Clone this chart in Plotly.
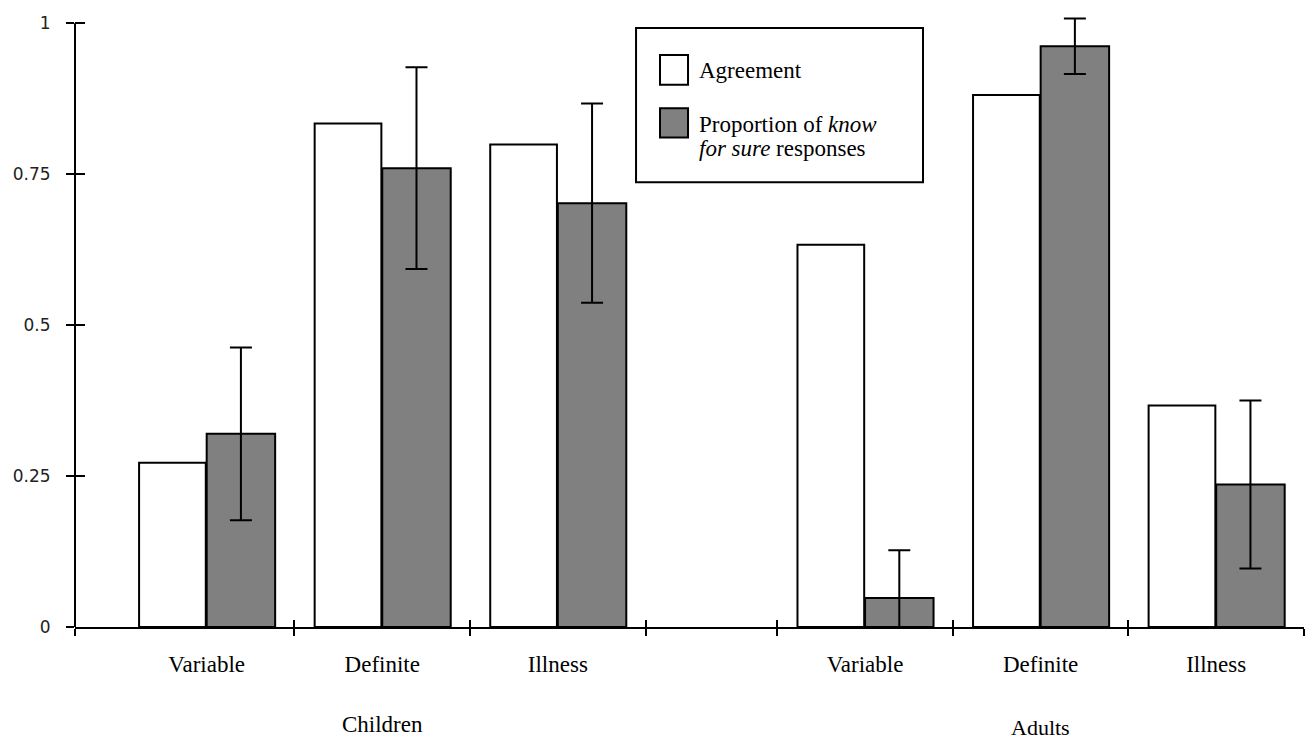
import plotly.graph_objects as go

# ---------------- data ----------------
categories = ["Variable", "Definite", "Illness", "Variable", "Definite", "Illness"]
groups = ["Children", "Adults"]
agreement = [0.272, 0.834, 0.799, 0.633, 0.881, 0.367]
know_for_sure = [0.320, 0.760, 0.702, 0.048, 0.962, 0.236]
know_err = [0.143, 0.167, 0.165, 0.079, 0.046, 0.139]
y_ticks = [0, 0.25, 0.5, 0.75, 1]
y_tick_labels = ["0", "0.25", "0.5", "0.75", "1"]

# ---------------- layout positions ----------------
x_pos = [1, 2, 3, 4.75, 5.75, 6.75]
x_bounds = [0.25, 1.5, 2.5, 3.5, 4.25, 5.25, 6.25, 7.25]
group_label_x = [2, 5.75]
x_range = [0.25, 7.25]
y_range = [0, 1.012]

SERIF = "Liberation Serif, Times New Roman, serif"
SANS = "DejaVu Sans, Verdana, sans-serif"
GREY = "#808080"

fig = go.Figure()

fig.add_trace(go.Bar(
    x=x_pos, y=agreement, name="Agreement",
    offset=-0.385, width=0.38,
    marker=dict(color="white", line=dict(color="black", width=2)),
    showlegend=False, hoverinfo="y",
))
fig.add_trace(go.Bar(
    x=x_pos, y=know_for_sure, name="Proportion of know for sure responses",
    offset=0.0, width=0.39,
    marker=dict(color=GREY, line=dict(color="black", width=2)),
    error_y=dict(type="data", array=know_err, color="black", thickness=2, width=11),
    showlegend=False, hoverinfo="y",
))
# invisible helpers so the overlay axes are drawn
fig.add_trace(go.Scatter(x=x_pos, y=agreement, xaxis="x2", yaxis="y2", mode="markers",
                         marker=dict(opacity=0), showlegend=False, hoverinfo="skip"))
fig.add_trace(go.Scatter(x=x_pos, y=agreement, xaxis="x3", yaxis="y", mode="markers",
                         marker=dict(opacity=0), showlegend=False, hoverinfo="skip"))

common_x = dict(range=x_range, showgrid=False, zeroline=False, fixedrange=True)
common_y = dict(range=y_range, showgrid=False, zeroline=False, fixedrange=True)

fig.update_layout(
    width=1305, height=731,
    margin=dict(l=67, r=9, t=5, b=112),
    paper_bgcolor="white", plot_bgcolor="white",
    barmode="overlay",
    showlegend=False,
    xaxis=dict(**common_x, tickmode="array", tickvals=x_bounds, ticks="outside",
               ticklen=7, tickwidth=2, tickcolor="black", showticklabels=False,
               showline=True, linewidth=2, linecolor="black"),
    xaxis2=dict(**common_x, overlaying="x", anchor="y", side="bottom",
                tickmode="array", tickvals=x_bounds, ticks="inside",
                ticklen=7, tickwidth=2, tickcolor="black", showticklabels=False,
                showline=False),
    xaxis3=dict(**common_x, overlaying="x", anchor="y", side="bottom",
                tickmode="array", tickvals=x_pos, ticktext=categories, ticks="",
                ticklabelstandoff=21, showline=False,
                tickfont=dict(family=SERIF, size=23, color="black")),
    yaxis=dict(**common_y, tickmode="array", tickvals=y_ticks, ticktext=y_tick_labels,
               ticks="outside", ticklen=8, tickwidth=2, tickcolor="black",
               ticklabelstandoff=12, showline=False,
               tickfont=dict(family=SANS, size=17, color="#222222")),
    yaxis2=dict(**common_y, overlaying="y", anchor="x", side="left",
                tickmode="array", tickvals=y_ticks, ticks="inside", ticklen=10,
                tickwidth=2, tickcolor="black", showticklabels=False, showline=False),
)

shapes = [
    # y axis line from 0 to 1
    dict(type="line", xref="paper", yref="y", x0=0, x1=0, y0=y_ticks[0], y1=y_ticks[-1],
         line=dict(color="black", width=2), layer="above"),
    # legend box
    dict(type="rect", xref="paper", yref="paper", x0=0.4565, x1=0.690, y0=0.728, y1=0.9805,
         line=dict(color="black", width=2), fillcolor="white", layer="above"),
    dict(type="rect", xref="paper", yref="paper", x0=0.476, x1=0.4988, y0=0.8876, y1=0.936,
         line=dict(color="black", width=2), fillcolor="white", layer="above"),
    dict(type="rect", xref="paper", yref="paper", x0=0.476, x1=0.4988, y0=0.801, y1=0.849,
         line=dict(color="black", width=2), fillcolor=GREY, layer="above"),
]

annotations = [
    dict(text=groups[0], x=group_label_x[0], xref="x", y=-0.1596, yref="paper",
         showarrow=False, xanchor="center", yanchor="middle",
         font=dict(family=SERIF, size=23, color="black")),
    dict(text=groups[1], x=group_label_x[1], xref="x", y=-0.1645, yref="paper",
         showarrow=False, xanchor="center", yanchor="middle",
         font=dict(family=SERIF, size=22, color="black")),
    dict(text="Agreement", x=0.506, xref="paper", y=0.910, yref="paper",
         showarrow=False, xanchor="left", yanchor="middle",
         font=dict(family=SERIF, size=23, color="black")),
    dict(text="Proportion of <i>know</i>", x=0.506, xref="paper", y=0.8225, yref="paper",
         showarrow=False, xanchor="left", yanchor="middle",
         font=dict(family=SERIF, size=23, color="black")),
    dict(text="<i>for sure</i> responses", x=0.506, xref="paper", y=0.783, yref="paper",
         showarrow=False, xanchor="left", yanchor="middle",
         font=dict(family=SERIF, size=23, color="black")),
]

fig.update_layout(shapes=shapes, annotations=annotations)

fig.write_html("out.html")
